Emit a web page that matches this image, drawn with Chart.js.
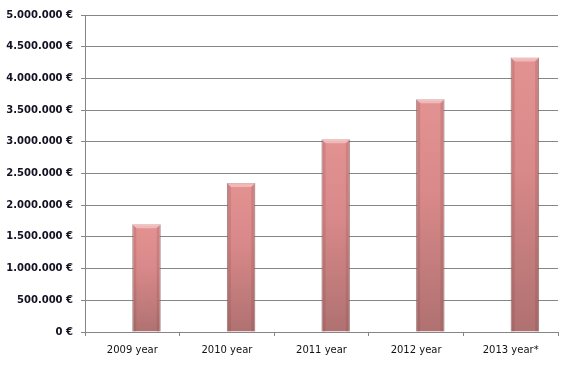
<!DOCTYPE html>
<html>
<head>
<meta charset="utf-8">
<script src="https://cdn.jsdelivr.net/npm/chart.js@4/dist/chart.umd.min.js"></script>
<style>
  html, body { margin: 0; padding: 0; background: #fff; }
  #wrap { width: 572px; height: 366px; }
</style>
</head>
<body>
<div id="wrap"><canvas id="revenue-chart"></canvas></div>
<script>
const anos = ['2009 year', '2010 year', '2011 year', '2012 year', '2013 year*'];
// primeira série vazia no original (por isso as barras ficam à direita do centro)
const serieVazia = [null, null, null, null, null];
const receitas = [1700000, 2350000, 3040000, 3670000, 4330000];

function formatarEuro(v) {
    return String(v).replace(/\B(?=(\d{3})+(?!\d))/g, '.') + ' €';
}

function gradienteBarra(context) {
    const chart = context.chart;
    const { ctx, chartArea, scales } = chart;
    if (!chartArea || !scales.y || context.raw == null) return '#d98686';
    const topo = scales.y.getPixelForValue(context.raw);
    const base = scales.y.getPixelForValue(0);
    const g = ctx.createLinearGradient(0, topo, 0, base);
    g.addColorStop(0, '#e39292');
    g.addColorStop(0.4, '#d98989');
    g.addColorStop(1, '#b07171');
    return g;
}

// efeito de chanfro das barras (estilo Excel)
const chanfro = {
    id: 'chanfro',
    afterDatasetsDraw(chart) {
        const ctx = chart.ctx;
        const meta = chart.getDatasetMeta(1);
        meta.data.forEach(bar => {
            const { x, y, base, width } = bar.getProps(['x', 'y', 'base', 'width'], true);
            const l = x - width / 2, r = x + width / 2, b = 4;
            ctx.save();
            // topo claro
            ctx.fillStyle = 'rgba(255,215,215,0.55)';
            ctx.beginPath();
            ctx.moveTo(l, y); ctx.lineTo(r, y); ctx.lineTo(r - b, y + b); ctx.lineTo(l + b, y + b);
            ctx.closePath(); ctx.fill();
            // laterais escuras
            ctx.fillStyle = 'rgba(120,60,60,0.18)';
            ctx.beginPath();
            ctx.moveTo(l, y); ctx.lineTo(l + b, y + b); ctx.lineTo(l + b, base); ctx.lineTo(l, base);
            ctx.closePath(); ctx.fill();
            ctx.beginPath();
            ctx.moveTo(r, y); ctx.lineTo(r - b, y + b); ctx.lineTo(r - b, base); ctx.lineTo(r, base);
            ctx.closePath(); ctx.fill();
            ctx.restore();
        });
    }
};

const ctx = document.getElementById('revenue-chart').getContext('2d');
new Chart(ctx, {
    type: 'bar',
    data: {
        labels: anos,
        datasets: [{
            data: serieVazia,
            backgroundColor: 'transparent',
            categoryPercentage: 0.6,
            barPercentage: 1
        }, {
            data: receitas,
            backgroundColor: gradienteBarra,
            borderColor: 'rgba(140,100,100,0.7)',
            borderWidth: 1,
            categoryPercentage: 0.6,
            barPercentage: 1
        }]
    },
    options: {
        responsive: true,
        maintainAspectRatio: false,
        animation: false,
        layout: { padding: { top: 15, right: 14, left: 0, bottom: 0 } },
        plugins: {
            legend: { display: false },
            tooltip: { enabled: false }
        },
        scales: {
            x: {
                grid: {
                    offset: true,
                    drawOnChartArea: false,
                    color: '#868686',
                    tickLength: 4
                },
                border: { color: '#868686' },
                ticks: {
                    color: '#111',
                    font: { family: 'DejaVu Sans', size: 10 },
                    padding: 8
                },
                afterFit(scale) { scale.height = 34; }
            },
            y: {
                min: 0,
                max: 5000000,
                grid: { color: '#868686', tickLength: 4 },
                border: { color: '#868686' },
                ticks: {
                    stepSize: 500000,
                    color: '#111122',
                    font: { family: 'DejaVu Sans', size: 10, weight: 'bold' },
                    padding: 8,
                    callback: v => formatarEuro(v)
                },
                afterFit(scale) { scale.width = 85; }
            }
        }
    },
    plugins: [chanfro]
});
</script>
</body>
</html>
